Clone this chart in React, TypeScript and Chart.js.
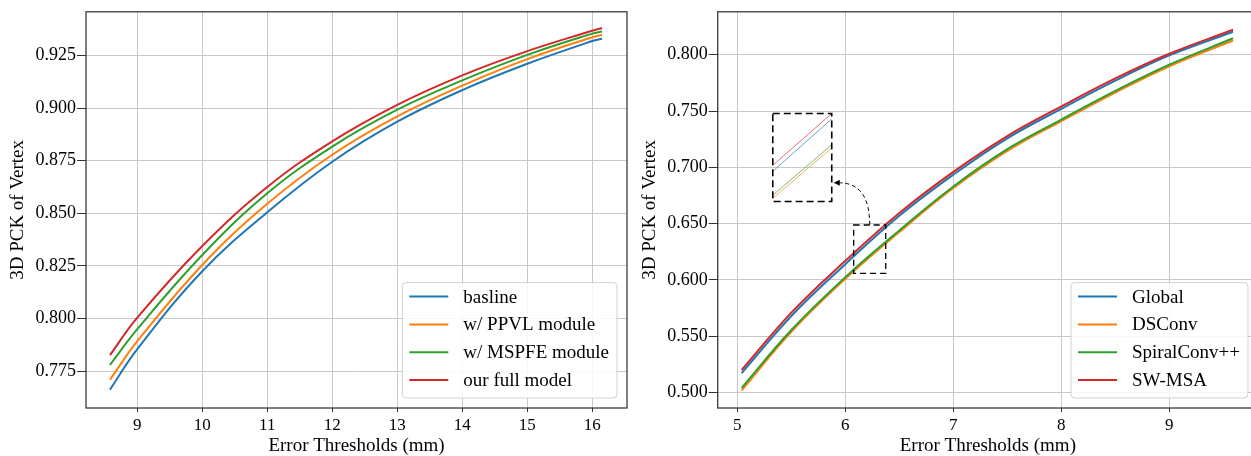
import React, { useEffect, useRef } from "react";
import { Chart, registerables } from "chart.js";

Chart.register(...registerables);

const FONT = "'Liberation Serif', 'Times New Roman', serif";
Chart.defaults.font.family = FONT;

// ---------- Left panel data ----------
const leftThresholds = [8.58, 9, 10, 11, 12, 13, 14, 15, 16, 16.15];
const leftBaseline = [0.7663, 0.7855, 0.8225, 0.8505, 0.8745, 0.8935, 0.9085, 0.921, 0.9318, 0.9329];
const leftPPVL = [0.771, 0.7893, 0.8255, 0.8545, 0.8778, 0.896, 0.9106, 0.9232, 0.9336, 0.9347];
const leftMSPFE = [0.778, 0.795, 0.8302, 0.8595, 0.8817, 0.8992, 0.9131, 0.9252, 0.9353, 0.9363];
const leftFull = [0.7827, 0.8005, 0.8345, 0.8625, 0.8842, 0.9015, 0.9155, 0.927, 0.9367, 0.938];
const leftLabels = ["basline", "w/ PPVL module", "w/ MSPFE module", "our full model"];
const leftXTicks = [9, 10, 11, 12, 13, 14, 15, 16];
const leftYTicks = [0.775, 0.8, 0.825, 0.85, 0.875, 0.9, 0.925];

// ---------- Right panel data ----------
const rightThresholds = [5.04, 5.5, 6, 6.5, 7, 7.5, 8, 8.5, 9, 9.59];
const rightGlobal = [0.5172, 0.568, 0.614, 0.657, 0.6935, 0.7258, 0.752, 0.777, 0.7994, 0.8204];
const rightDSConv = [0.502, 0.554, 0.601, 0.6425, 0.6816, 0.7146, 0.741, 0.7664, 0.7898, 0.8126];
const rightSpiral = [0.5041, 0.5555, 0.6025, 0.644, 0.683, 0.7161, 0.7424, 0.7679, 0.7912, 0.8146];
const rightSWMSA = [0.52, 0.571, 0.617, 0.6595, 0.696, 0.7278, 0.7541, 0.779, 0.8009, 0.8222];
const rightLabels = ["Global", "DSConv", "SpiralConv++", "SW-MSA"];
const rightXTicks = [5, 6, 7, 8, 9];
const rightYTicks = [0.5, 0.55, 0.6, 0.65, 0.7, 0.75, 0.8];

// zoom inset (data units of the right panel)
const insetSource = { x0: 6.077, x1: 6.374, y0: 0.6059, y1: 0.6488 };
const insetTarget = { x0: 5.328, x1: 5.874, y0: 0.6697, y1: 0.7478 };
const insetArrowY = 0.6863;

const COLORS = ["#1f77b4", "#ff7f0e", "#2ca02c", "#d62728"];

const framePlugin = {
  id: "frame",
  afterDatasetsDraw(chart: any) {
    const { ctx, chartArea: a } = chart;
    ctx.save();
    ctx.strokeStyle = "#333";
    ctx.lineWidth = 1.25;
    ctx.strokeRect(a.left, a.top, a.right - a.left, a.bottom - a.top);
    ctx.restore();
  },
};

const boxLegendPlugin = {
  id: "boxLegend",
  afterDatasetsDraw(chart: any) {
    const { ctx, chartArea: a } = chart;
    const ds = chart.data.datasets;
    ctx.save();
    ctx.font = `19px ${FONT}`;
    const textW = Math.max(...ds.map((d: any) => ctx.measureText(d.label).width));
    const padL = 7, handle = 39, gap = 15, padR = 8, rowH = 27.8, padT = 14, padB = 18;
    const w = padL + handle + gap + textW + padR;
    const h = padT + padB + rowH * (ds.length - 1);
    const x = a.right - 10 - w;
    const y = a.bottom - 10 - h;
    const r = 4;
    ctx.beginPath();
    ctx.moveTo(x + r, y);
    ctx.lineTo(x + w - r, y);
    ctx.quadraticCurveTo(x + w, y, x + w, y + r);
    ctx.lineTo(x + w, y + h - r);
    ctx.quadraticCurveTo(x + w, y + h, x + w - r, y + h);
    ctx.lineTo(x + r, y + h);
    ctx.quadraticCurveTo(x, y + h, x, y + h - r);
    ctx.lineTo(x, y + r);
    ctx.quadraticCurveTo(x, y, x + r, y);
    ctx.closePath();
    ctx.fillStyle = "rgba(255,255,255,0.85)";
    ctx.fill();
    ctx.strokeStyle = "rgba(204,204,204,0.9)";
    ctx.lineWidth = 1;
    ctx.stroke();
    ds.forEach((d: any, i: number) => {
      const cy = y + padT + i * rowH;
      ctx.beginPath();
      ctx.moveTo(x + padL, cy);
      ctx.lineTo(x + padL + handle, cy);
      ctx.strokeStyle = d.borderColor;
      ctx.lineWidth = 2;
      ctx.stroke();
      ctx.fillStyle = "#000";
      ctx.textBaseline = "middle";
      ctx.textAlign = "left";
      ctx.fillText(d.label, x + padL + handle + gap, cy + 1);
    });
    ctx.restore();
  },
};

function hexAlpha(hex: string, a: number) {
  const n = parseInt(hex.slice(1), 16);
  return `rgba(${(n >> 16) & 255},${(n >> 8) & 255},${n & 255},${a})`;
}

const insetPlugin = {
  id: "zoomInset",
  afterDatasetsDraw(chart: any) {
    const { ctx } = chart;
    const xs = chart.scales.x;
    const ys = chart.scales.y;
    const sL = xs.getPixelForValue(insetSource.x0);
    const sR = xs.getPixelForValue(insetSource.x1);
    const sT = ys.getPixelForValue(insetSource.y1);
    const sB = ys.getPixelForValue(insetSource.y0);
    const dL = xs.getPixelForValue(insetTarget.x0);
    const dR = xs.getPixelForValue(insetTarget.x1);
    const dT = ys.getPixelForValue(insetTarget.y1);
    const dB = ys.getPixelForValue(insetTarget.y0);
    ctx.save();
    ctx.save();
    ctx.beginPath();
    ctx.rect(dL, dT, dR - dL, dB - dT);
    ctx.clip();
    const mapX = (x: number) => dL + ((x - insetSource.x0) / (insetSource.x1 - insetSource.x0)) * (dR - dL);
    const mapY = (y: number) => dT + ((insetSource.y1 - y) / (insetSource.y1 - insetSource.y0)) * (dB - dT);
    const interp = (pts: any[], x: number) => {
      for (let i = 0; i < pts.length - 1; i++) {
        if (x >= pts[i].x && x <= pts[i + 1].x) {
          const t = (x - pts[i].x) / (pts[i + 1].x - pts[i].x);
          return pts[i].y + t * (pts[i + 1].y - pts[i].y);
        }
      }
      return pts[pts.length - 1].y;
    };
    chart.data.datasets.slice().reverse().forEach((d: any) => {
      const pts = d.data;
      const xsIn = [insetSource.x0, ...pts.map((p: any) => p.x).filter((x: number) => x > insetSource.x0 && x < insetSource.x1), insetSource.x1];
      ctx.beginPath();
      xsIn.forEach((x: number, i: number) => {
        const px = mapX(x);
        const py = mapY(interp(pts, x));
        if (i === 0) ctx.moveTo(px, py);
        else ctx.lineTo(px, py);
      });
      ctx.strokeStyle = hexAlpha(d.borderColor, 0.75);
      ctx.lineWidth = 0.9;
      ctx.stroke();
    });
    ctx.restore();
    ctx.strokeStyle = "#000";
    ctx.lineWidth = 1.6;
    ctx.setLineDash([7, 4]);
    ctx.strokeRect(dL, dT, dR - dL, dB - dT);
    ctx.lineWidth = 1.3;
    ctx.setLineDash([6, 4]);
    ctx.strokeRect(sL, sT, sR - sL, sB - sT);
    const ax = (sL + sR) / 2;
    const ay = sT;
    const ey = ys.getPixelForValue(insetArrowY);
    const ex = dR + 2;
    ctx.setLineDash([4, 3]);
    ctx.lineWidth = 1;
    ctx.beginPath();
    ctx.moveTo(ax, ay);
    ctx.quadraticCurveTo(ax, ey, ex + 5, ey);
    ctx.stroke();
    ctx.setLineDash([]);
    ctx.beginPath();
    ctx.moveTo(ex, ey);
    ctx.lineTo(ex + 6, ey - 3);
    ctx.lineTo(ex + 6, ey + 3);
    ctx.closePath();
    ctx.fillStyle = "#000";
    ctx.fill();
    ctx.restore();
  },
};

function makeDatasets(xs: number[], series: number[][], labels: string[]) {
  return series.map((vals, i) => ({
    label: labels[i],
    data: xs.map((x, j) => ({ x, y: vals[j] })),
    borderColor: COLORS[i],
    backgroundColor: COLORS[i],
    borderWidth: 2,
    pointRadius: 0,
    fill: false,
    tension: 0.4,
    order: series.length - 1 - i,
  }));
}

function axes(opts: {
  xMin: number; xMax: number; yMin: number; yMax: number;
  xTicks: number[]; yTicks: number[]; yWidth: number; yTitlePad: number;
}) {
  const grid = { color: "#c8c8c8", lineWidth: 1, tickColor: "#333", drawTicks: true };
  return {
    x: {
      type: "linear" as const,
      min: opts.xMin,
      max: opts.xMax,
      afterBuildTicks: (s: any) => { s.ticks = opts.xTicks.map((v) => ({ value: v })); },
      afterFit: (s: any) => { s.height = 48; },
      grid: { ...grid, tickLength: 4 },
      border: { display: false },
      ticks: {
        font: { family: FONT, size: 17 }, color: "#000", padding: 3,
        maxRotation: 0, autoSkip: false, callback: (v: any) => String(v),
      },
      title: {
        display: true, text: "Error Thresholds (mm)", color: "#000",
        font: { family: FONT, size: 19, lineHeight: 1 }, padding: { top: 0, bottom: 0 },
      },
    },
    y: {
      type: "linear" as const,
      min: opts.yMin,
      max: opts.yMax,
      afterBuildTicks: (s: any) => { s.ticks = opts.yTicks.map((v) => ({ value: v })); },
      afterFit: (s: any) => { s.width = opts.yWidth; },
      grid: { ...grid, tickLength: 9 },
      border: { display: false },
      ticks: {
        font: { family: FONT, size: 18 }, color: "#000", padding: 1,
        autoSkip: false, callback: (v: any) => Number(v).toFixed(3),
      },
      title: {
        display: true, text: "3D PCK of Vertex", color: "#000",
        font: { family: FONT, size: 19, lineHeight: 1.2 }, padding: { top: opts.yTitlePad, bottom: 0 },
      },
    },
  };
}

function leftConfig(): any {
  return {
    type: "line",
    data: {
      datasets: makeDatasets(leftThresholds, [leftBaseline, leftPPVL, leftMSPFE, leftFull], leftLabels),
    },
    options: {
      responsive: false,
      animation: false,
      devicePixelRatio: 1,
      layout: { padding: { left: 0, right: 3, top: 5, bottom: 0 } },
      plugins: { legend: { display: false }, tooltip: { enabled: false }, title: { display: false } },
      scales: axes({
        xMin: 8.211, xMax: 16.534, yMin: 0.75759, yMax: 0.94567,
        xTicks: leftXTicks, yTicks: leftYTicks, yWidth: 86, yTitlePad: 6.6,
      }),
    },
    plugins: [framePlugin, boxLegendPlugin],
  };
}

function rightConfig(): any {
  return {
    type: "line",
    data: {
      datasets: makeDatasets(rightThresholds, [rightGlobal, rightDSConv, rightSpiral, rightSWMSA], rightLabels),
    },
    options: {
      responsive: false,
      animation: false,
      devicePixelRatio: 1,
      layout: { padding: { left: 0, right: 12, top: 5.7, bottom: 0 } },
      plugins: { legend: { display: false }, tooltip: { enabled: false }, title: { display: false } },
      scales: axes({
        xMin: 4.818, xMax: 9.821, yMin: 0.48627, yMax: 0.83813,
        xTicks: rightXTicks, yTicks: rightYTicks, yWidth: 87.7, yTitlePad: 8.6,
      }),
    },
    plugins: [framePlugin, insetPlugin, boxLegendPlugin],
  };
}

function Panel({ make, left, width }: { make: () => any; left: number; width: number }) {
  const ref = useRef<HTMLCanvasElement | null>(null);
  useEffect(() => {
    if (!ref.current) return;
    const chart = new Chart(ref.current, make());
    return () => chart.destroy();
  }, []);
  return (
    <canvas
      ref={ref}
      width={width}
      height={456}
      style={{ position: "absolute", left, top: 0, width, height: 456 }}
    />
  );
}

export default function App() {
  return (
    <div
      style={{
        position: "fixed", left: 0, top: 0, width: 1251, height: 456,
        overflow: "hidden", background: "#fff",
      }}
    >
      <Panel make={leftConfig} left={0} width={630} />
      <Panel make={rightConfig} left={630} width={640} />
    </div>
  );
}
